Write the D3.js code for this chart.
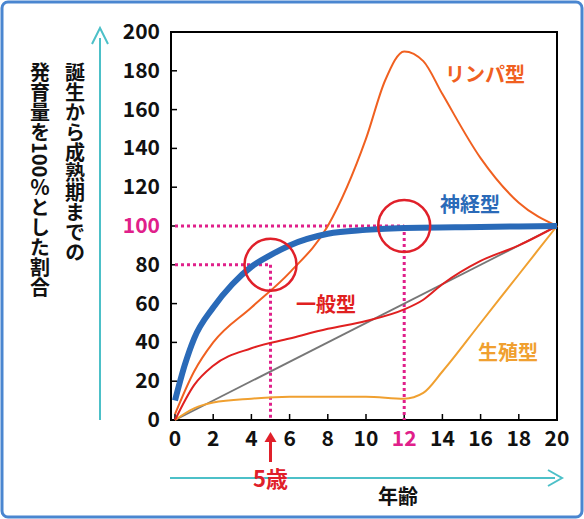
<!DOCTYPE html><html><head><meta charset="utf-8">
<script src="https://cdn.jsdelivr.net/npm/d3@7"></script>
<style>body{margin:0;background:#fff}text{font-family:"Noto Sans CJK JP","Noto Sans",sans-serif}</style></head><body>
<svg id="c" width="584" height="519"></svg>
<script>
const xTicks=[0,2,4,6,8,10,12,14,16,18,20];
const yTicks=[0,20,40,60,80,100,120,140,160,180,200];
const lymph=[[0,3],[1,25],[2,40],[4,58],[6,76],[8,100],[10,145],[11,175],[12,190],[13,185],[14,168],[16,135],[18,112],[20,100]];
const neural=[[0,10],[0.5,28],[1,42],[2,58],[3,70],[4,79],[5,85],[6,90],[8,96],[10,98],[12,99],[16,99.5],[20,100]];
const general=[[0,0],[1,18],[2,28],[4,37],[6,42],[8,47],[10,51],[12,57],[13,62],[14,70],[16,82],[18,90],[20,100]];
const repro=[[0,0],[1,6],[2,9],[4,11],[6,12],[8,12],[10,12],[12,11],[13,14],[14,25],[16,50],[18,75],[20,100]];
const gray=[[0,0],[20,100]];
const svg=d3.select("#c");
svg.append("rect").attr("x",2).attr("y",2).attr("width",580).attr("height",515).attr("rx",6).attr("fill","#fff").attr("stroke","#4a86d0").attr("stroke-width",3);
const x=d3.scaleLinear().domain([0,20]).range([175,557]);
const y=d3.scaleLinear().domain([0,200]).range([420,32]);
const g=svg.append("g");
g.append("rect").attr("x",x(0)-4).attr("y",y(200)).attr("width",x(20)-x(0)+4).attr("height",y(0)-y(200)).attr("fill","none").attr("stroke","#000").attr("stroke-width",2);
xTicks.forEach(t=>{g.append("line").attr("x1",x(t)).attr("x2",x(t)).attr("y1",y(0)).attr("y2",y(0)-6).attr("stroke","#000").attr("stroke-width",1.5);
 g.append("text").attr("x",x(t)).attr("y",446).attr("text-anchor","middle").attr("font-size",21).attr("font-weight","bold").attr("fill",t==12?"#e0208a":"#111").text(t);});
yTicks.forEach(t=>{g.append("line").attr("x1",x(0)-4).attr("x2",x(0)+2).attr("y1",y(t)).attr("y2",y(t)).attr("stroke","#000").attr("stroke-width",1.5);
 g.append("text").attr("x",160).attr("y",y(t)+7).attr("text-anchor","end").attr("font-size",21).attr("font-weight","bold").attr("fill",t==100?"#e0208a":"#111").text(t);});
const line=d3.line().x(d=>x(d[0])).y(d=>y(d[1])).curve(d3.curveMonotoneX);
const dot="#e0208a";
[[[0,100],[12,100]],[[12,100],[12,0]],[[0,80],[5,80]],[[5,80],[5,0]]].forEach(s=>g.append("path").attr("d",d3.line().x(d=>x(d[0])).y(d=>y(d[1])).curve(d3.curveLinear)(s)).attr("stroke",dot).attr("stroke-width",3).attr("stroke-dasharray","3,3").attr("fill","none"));
g.append("path").attr("d",line(gray)).attr("stroke","#777").attr("stroke-width",1.8).attr("fill","none");
g.append("path").attr("d",line(repro)).attr("stroke","#f0a030").attr("stroke-width",2).attr("fill","none");
g.append("path").attr("d",line(general)).attr("stroke","#e02020").attr("stroke-width",2).attr("fill","none");
g.append("path").attr("d",line(lymph)).attr("stroke","#f06020").attr("stroke-width",2).attr("fill","none");
g.append("path").attr("d",line(neural)).attr("stroke","#2a6ab8").attr("stroke-width",6).attr("fill","none");
[[5,80],[12,100]].forEach(p=>g.append("circle").attr("cx",x(p[0])).attr("cy",y(p[1])).attr("r",26).attr("fill","none").attr("stroke","#e0202a").attr("stroke-width",2.5));
const lab=(t,px,py,c)=>g.append("text").attr("x",px).attr("y",py).attr("font-size",20).attr("font-weight","bold").attr("fill",c).text(t);
lab("リンパ型",445,82,"#f06020");lab("神経型",440,212,"#2a6ab8");lab("一般型",296,312,"#e02020");lab("生殖型",478,360,"#f0a030");
const cy="#4cc0c8";
svg.append("line").attr("x1",100).attr("x2",100).attr("y1",420).attr("y2",38).attr("stroke",cy).attr("stroke-width",2);
svg.append("path").attr("d","M92,44 L100,28 L108,44").attr("fill","none").attr("stroke",cy).attr("stroke-width",2);
svg.append("line").attr("x1",170).attr("x2",555).attr("y1",478).attr("y2",478).attr("stroke",cy).attr("stroke-width",2);
svg.append("path").attr("d","M548,470 L562,478 L548,486").attr("fill","none").attr("stroke",cy).attr("stroke-width",2);
svg.append("line").attr("x1",x(5)).attr("x2",x(5)).attr("y1",462).attr("y2",436).attr("stroke","#e0202a").attr("stroke-width",3);
svg.append("path").attr("d",`M${x(5)-6},442 L${x(5)},432 L${x(5)+6},442Z`).attr("fill","#e0202a");
svg.append("text").attr("x",x(5)).attr("y",487).attr("text-anchor","middle").attr("font-size",22).attr("font-weight","bold").attr("fill","#e0202a").text("5歳");
svg.append("text").attr("x",398).attr("y",504).attr("text-anchor","middle").attr("font-size",20).attr("font-weight","bold").attr("fill","#111").text("年齢");
svg.append("text").attr("x",75).attr("y",62).attr("writing-mode","vertical-rl").attr("font-size",20).attr("font-weight","bold").attr("fill","#111").text("誕生から成熟期までの");
svg.append("text").attr("x",40).attr("y",62).attr("writing-mode","vertical-rl").attr("font-size",20).attr("font-weight","bold").attr("fill","#111").text("発育量を100％とした割合");
</script></body></html>
